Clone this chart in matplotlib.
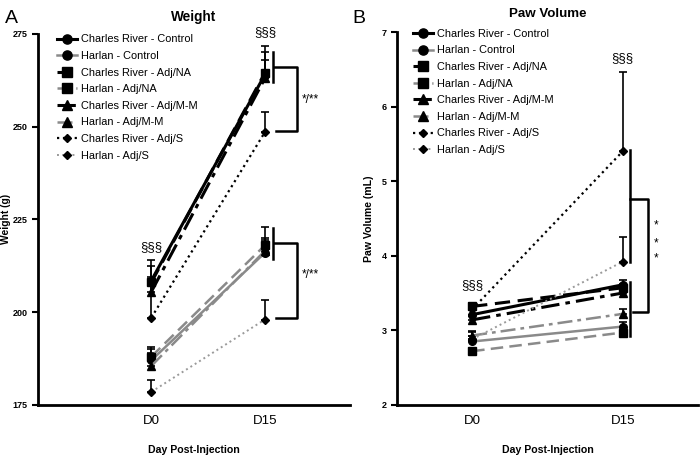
import matplotlib
matplotlib.use("Agg")
import matplotlib.pyplot as plt

plt.rcParams["font.family"] = ["Liberation Sans", "DejaVu Sans"]

days = ["D0", "D15"]
series = [
    "Charles River - Control", "Harlan - Control",
    "Charles River - Adj/NA", "Harlan - Adj/NA",
    "Charles River - Adj/M-M", "Harlan - Adj/M-M",
    "Charles River - Adj/S", "Harlan - Adj/S",
]

# Weight (g), mean and upper SEM
weight_mean = [
    [208.5, 264.0], [187.0, 216.0],
    [208.0, 264.5], [188.0, 218.0],
    [205.5, 263.0], [185.5, 216.5],
    [198.5, 248.5], [178.5, 198.0],
]
weight_err = [
    [5.5, 7.8], [3.0, 4.0],
    [4.5, 5.5], [2.7, 5.0],
    [4.0, 5.0], [3.5, 3.0],
    [9.0, 5.5], [3.2, 5.3],
]

# Paw volume (mL), mean and upper SEM
paw_mean = [
    [3.21, 3.61], [2.85, 3.05],
    [3.32, 3.57], [2.72, 2.97],
    [3.14, 3.50], [2.93, 3.22],
    [3.28, 5.40], [2.88, 3.92],
]
paw_err = [
    [0.06, 0.07], [0.08, 0.06],
    [0.05, 0.05], [0.04, 0.04],
    [0.05, 0.05], [0.06, 0.06],
    [0.05, 1.07], [0.10, 0.33],
]

colors = ["black", "#8a8a8a"] * 3 + ["black", "#9a9a9a"]
markers = ["o", "o", "s", "s", "^", "^", "D", "D"]
msizes = [5.5, 5.5, 5.5, 5.5, 5.5, 5.5, 3.8, 3.8]
styles = ["-", "-", (0, (5, 2.5)), (0, (5, 2.5)),
          (0, (6, 2, 1.5, 2)), (0, (6, 2, 1.5, 2)), ":", ":"]
widths = [2.2, 1.8, 2.2, 1.8, 2.2, 1.8, 1.6, 1.4]


def draw(ax, means, errs, legend_anchor):
    x = [0, 1]
    for i, label in enumerate(series):
        ax.errorbar(x, means[i], yerr=[[0, 0], errs[i]], color=colors[i],
                    ecolor="black", elinewidth=1.2, capsize=3, capthick=1.2,
                    marker=markers[i], markersize=msizes[i], linestyle=styles[i],
                    markerfacecolor="black", markeredgecolor="black",
                    linewidth=widths[i], label=label)
    ax.spines["top"].set_visible(False)
    ax.spines["right"].set_visible(False)
    ax.spines["left"].set_linewidth(2)
    ax.spines["bottom"].set_linewidth(2)
    ax.set_xticks(x)
    ax.set_xticklabels(days, fontsize=9.5)
    ax.tick_params(axis="x", length=0, pad=7)
    ax.tick_params(axis="y", width=1.5, length=4, labelsize=6.5)
    for t in ax.get_yticklabels():
        t.set_fontweight("bold")
    ax.set_xlabel("Day Post-Injection", fontsize=7.6, fontweight="bold", labelpad=13)
    handles, labels = ax.get_legend_handles_labels()
    handles = [h[0] for h in handles]
    ax.legend(handles, labels, loc="upper left", frameon=False, fontsize=7.9,
              handlelength=1.8, handletextpad=0.4, labelspacing=0.6,
              markerscale=1.2, bbox_to_anchor=legend_anchor)


fig = plt.figure(figsize=(7, 4.58), dpi=100)
axA = fig.add_axes([0.054, 0.116, 0.446, 0.81])
axB = fig.add_axes([0.567, 0.116, 0.430, 0.814])

draw(axA, weight_mean, weight_err, (0.03, 1.025))
axA.set_xlim(-1.0, 1.75)
axA.set_ylim(175, 275)
axA.set_yticks([175, 200, 225, 250, 275])
axA.set_ylabel("Weight (g)", fontsize=7.4, fontweight="bold", labelpad=1)
axA.set_title("Weight", fontsize=9.8, fontweight="bold", pad=9)

draw(axB, paw_mean, paw_err, (0.02, 1.035))
axB.set_xlim(-0.5, 1.5)
axB.set_ylim(2, 7)
axB.set_yticks([2, 3, 4, 5, 6, 7])
axB.set_ylabel("Paw Volume (mL)", fontsize=7.6, fontweight="bold", labelpad=5)
axB.set_title("Paw Volume", fontsize=9.6, fontweight="bold", pad=11)

kw = dict(color="black", linewidth=1.8, clip_on=False)

# Weight significance annotations
axA.plot([1.07, 1.07], [270.1, 262.1], **kw)
axA.plot([1.08, 1.28, 1.28, 1.1], [266.1, 266.1, 248.9, 248.9], **kw)
axA.text(1.40, 257.2, "*/**", ha="center", va="center", fontsize=8.5)
axA.plot([1.07, 1.07], [222.7, 214.4], **kw)
axA.plot([1.08, 1.28, 1.28, 1.1], [218.7, 218.7, 198.5, 198.5], **kw)
axA.text(1.40, 210.0, "*/**", ha="center", va="center", fontsize=8.5)
axA.text(0, 217.6, "§§§", ha="center", va="center", fontsize=9.5)
axA.text(1, 275.5, "§§§", ha="center", va="center", fontsize=9.5)

# Paw volume significance annotations
axB.plot([1.046, 1.046], [5.42, 3.92], **kw)
axB.plot([1.046, 1.046], [3.65, 2.92], **kw)
axB.plot([1.05, 1.166, 1.166, 1.066], [4.76, 4.76, 3.25, 3.25], **kw)
for yv in [4.40, 4.17, 3.96]:
    axB.text(1.225, yv, "*", ha="center", va="center", fontsize=8.5)
axB.text(0, 3.6, "§§§", ha="center", va="center", fontsize=9.5)
axB.text(1, 6.65, "§§§", ha="center", va="center", fontsize=9.5)

fig.text(0.007, 0.978, "A", fontsize=14, va="top")
fig.text(0.503, 0.978, "B", fontsize=14, va="top")

fig.savefig("out.png", dpi=100)
